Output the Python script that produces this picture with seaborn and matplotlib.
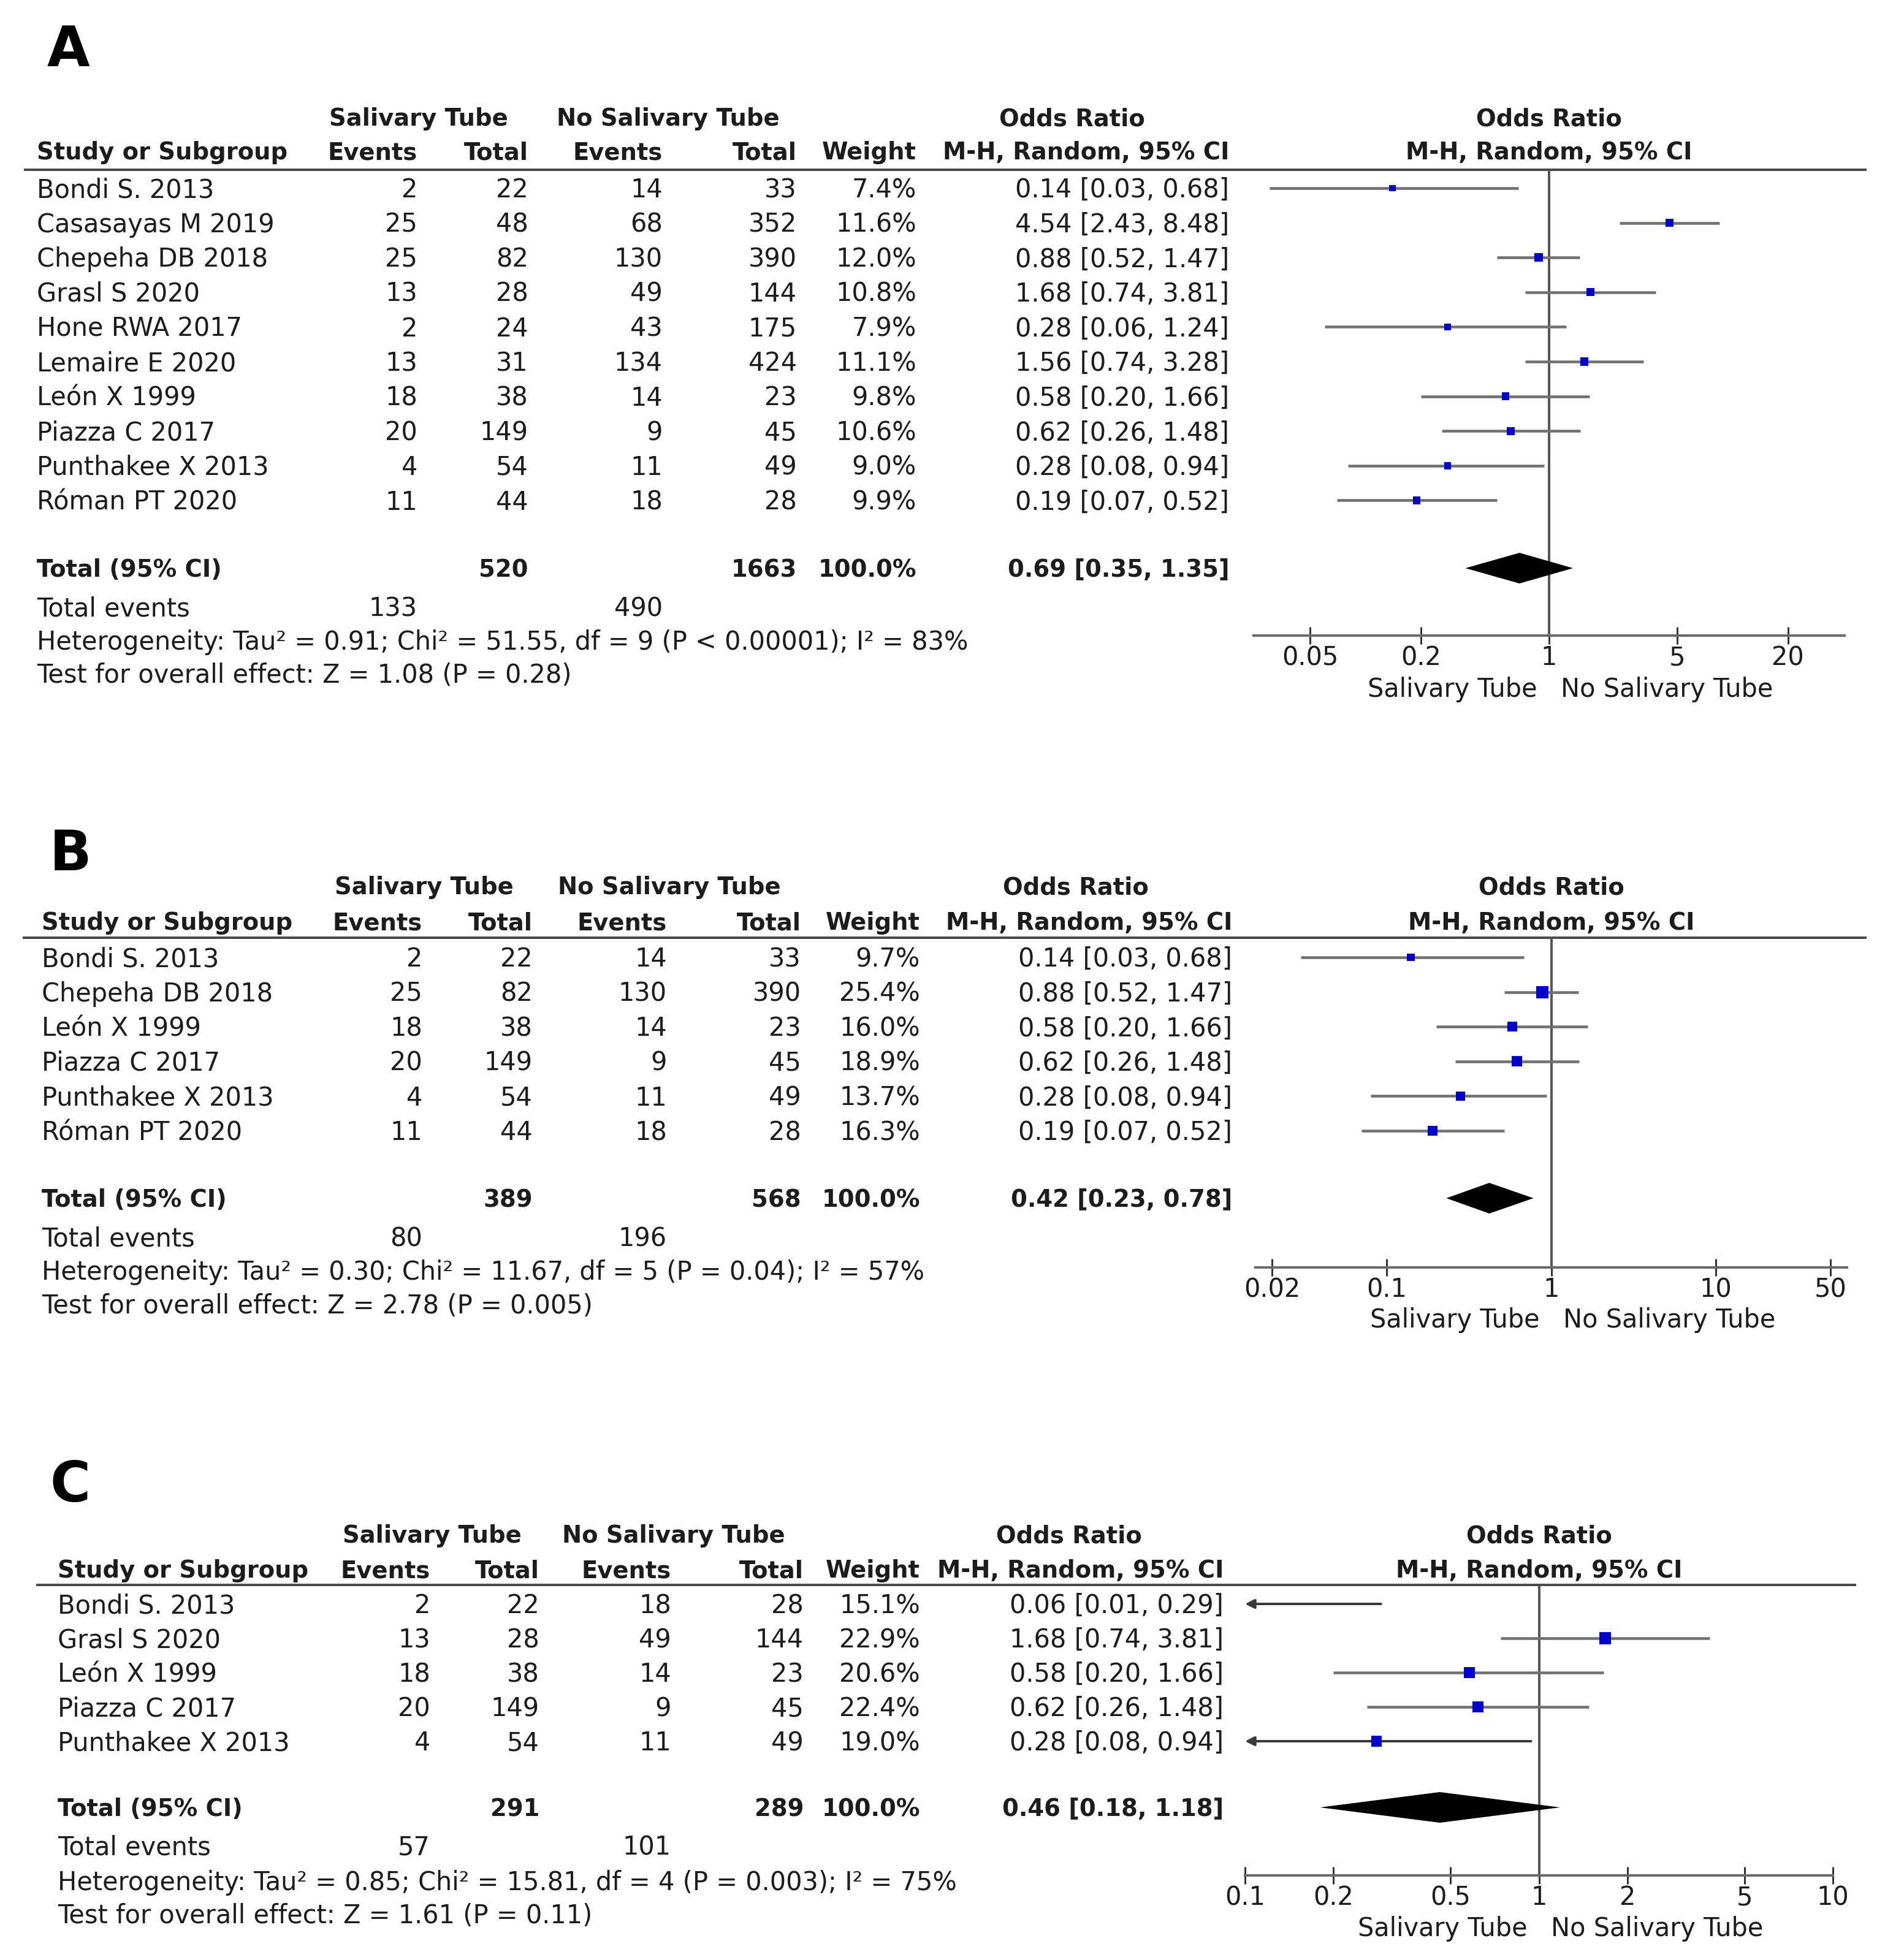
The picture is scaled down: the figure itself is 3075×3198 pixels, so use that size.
import numpy as np
import pandas as pd
import matplotlib
matplotlib.use("Agg")
import matplotlib.pyplot as plt
from matplotlib.ticker import NullLocator
import seaborn as sns

# ------------------------------------------------------------------ data
studies_A = ["Bondi S. 2013", "Casasayas M 2019", "Chepeha DB 2018", "Grasl S 2020",
             "Hone RWA 2017", "Lemaire E 2020", "León X 1999", "Piazza C 2017",
             "Punthakee X 2013", "Róman PT 2020"]
ev_sal_A = [2, 25, 25, 13, 2, 13, 18, 20, 4, 11]
tot_sal_A = [22, 48, 82, 28, 24, 31, 38, 149, 54, 44]
ev_no_A = [14, 68, 130, 49, 43, 134, 14, 9, 11, 18]
tot_no_A = [33, 352, 390, 144, 175, 424, 23, 45, 49, 28]
weight_A = [7.4, 11.6, 12.0, 10.8, 7.9, 11.1, 9.8, 10.6, 9.0, 9.9]
or_A = [0.14, 4.54, 0.88, 1.68, 0.28, 1.56, 0.58, 0.62, 0.28, 0.19]
lo_A = [0.03, 2.43, 0.52, 0.74, 0.06, 0.74, 0.20, 0.26, 0.08, 0.07]
hi_A = [0.68, 8.48, 1.47, 3.81, 1.24, 3.28, 1.66, 1.48, 0.94, 0.52]
total_A = [520, 1663, 0.69, 0.35, 1.35]
events_A = [133, 490]
het_A = "Heterogeneity: Tau² = 0.91; Chi² = 51.55, df = 9 (P < 0.00001); I² = 83%"
test_A = "Test for overall effect: Z = 1.08 (P = 0.28)"
ticks_A = [0.05, 0.2, 1, 5, 20]

studies_B = ["Bondi S. 2013", "Chepeha DB 2018", "León X 1999", "Piazza C 2017",
             "Punthakee X 2013", "Róman PT 2020"]
ev_sal_B = [2, 25, 18, 20, 4, 11]
tot_sal_B = [22, 82, 38, 149, 54, 44]
ev_no_B = [14, 130, 14, 9, 11, 18]
tot_no_B = [33, 390, 23, 45, 49, 28]
weight_B = [9.7, 25.4, 16.0, 18.9, 13.7, 16.3]
or_B = [0.14, 0.88, 0.58, 0.62, 0.28, 0.19]
lo_B = [0.03, 0.52, 0.20, 0.26, 0.08, 0.07]
hi_B = [0.68, 1.47, 1.66, 1.48, 0.94, 0.52]
total_B = [389, 568, 0.42, 0.23, 0.78]
events_B = [80, 196]
het_B = "Heterogeneity: Tau² = 0.30; Chi² = 11.67, df = 5 (P = 0.04); I² = 57%"
test_B = "Test for overall effect: Z = 2.78 (P = 0.005)"
ticks_B = [0.02, 0.1, 1, 10, 50]

studies_C = ["Bondi S. 2013", "Grasl S 2020", "León X 1999", "Piazza C 2017",
             "Punthakee X 2013"]
ev_sal_C = [2, 13, 18, 20, 4]
tot_sal_C = [22, 28, 38, 149, 54]
ev_no_C = [18, 49, 14, 9, 11]
tot_no_C = [28, 144, 23, 45, 49]
weight_C = [15.1, 22.9, 20.6, 22.4, 19.0]
or_C = [0.06, 1.68, 0.58, 0.62, 0.28]
lo_C = [0.01, 0.74, 0.20, 0.26, 0.08]
hi_C = [0.29, 3.81, 1.66, 1.48, 0.94]
total_C = [291, 289, 0.46, 0.18, 1.18]
events_C = [57, 101]
het_C = "Heterogeneity: Tau² = 0.85; Chi² = 15.81, df = 4 (P = 0.003); I² = 75%"
test_C = "Test for overall effect: Z = 1.61 (P = 0.11)"
ticks_C = [0.1, 0.2, 0.5, 1, 2, 5, 10]

# ------------------------------------------------------------------ style
sns.set_style("white")
plt.rcParams['font.family'] = ['DejaVu Sans']

W, H = 3075, 3198
DPI = 100
PX = 72.0 / DPI          # points per pixel
FS = 41.5 * PX           # body font
FSB = 38.5 * PX          # bold header font
TXT = '#1c1c1c'
BLUE = '#0000cc'

fig = plt.figure(figsize=(W / DPI, H / DPI), dpi=DPI)
bg = fig.add_axes([0, 0, 1, 1])
bg.set_xlim(0, W)
bg.set_ylim(H, 0)
bg.axis('off')


def txt(x, y, s, ha='left', bold=False, size=None, color=TXT):
    if size is None:
        size = FSB if bold else FS
    cap = 0.729 * size / PX
    bg.text(x, y + cap / 2, s, ha=ha, va='baseline', fontsize=size,
            fontweight='bold' if bold else 'normal', color=color)


def fmt_or(o, l, h):
    return f"{o:.2f} [{l:.2f}, {h:.2f}]"


def panel(label, studies, ev1, n1, ev2, n2, wt, orv, lo, hi, total, events,
          het, test, ticks, L):
    c = L['cols']
    # panel letter
    txt(L['lab_x'], L['lab_y'], label, bold=True, size=90 * PX, color='black')
    # headers
    txt(c['sal'], L['h1'], "Salivary Tube", ha='center', bold=True)
    txt(c['no'], L['h1'], "No Salivary Tube", ha='center', bold=True)
    txt(c['orh'], L['h1'], "Odds Ratio", ha='center', bold=True)
    txt(c['name'], L['h2'], "Study or Subgroup", bold=True)
    txt(c['ev1'], L['h2'], "Events", ha='right', bold=True)
    txt(c['n1'], L['h2'], "Total", ha='right', bold=True)
    txt(c['ev2'], L['h2'], "Events", ha='right', bold=True)
    txt(c['n2'], L['h2'], "Total", ha='right', bold=True)
    txt(c['wt'], L['h2'], "Weight", ha='right', bold=True)
    txt(c['or'], L['h2'], "M-H, Random, 95% CI", ha='right', bold=True)
    x0, x1 = L['ax_x']
    txt((x0 + x1) / 2, L['h1'], "Odds Ratio", ha='center', bold=True)
    txt((x0 + x1) / 2, L['h2'], "M-H, Random, 95% CI", ha='center', bold=True)
    bg.plot(L['line_x'], [L['line'], L['line']], color='#4a4a4a', lw=4 * PX,
            solid_capstyle='butt')

    # study rows
    for i, s in enumerate(studies):
        y = L['row0'] + i * L['sp']
        txt(c['name'], y, s)
        txt(c['ev1'], y, str(ev1[i]), ha='right')
        txt(c['n1'], y, str(n1[i]), ha='right')
        txt(c['ev2'], y, str(ev2[i]), ha='right')
        txt(c['n2'], y, str(n2[i]), ha='right')
        txt(c['wt'], y, f"{wt[i]:.1f}%", ha='right')
        txt(c['or'], y, fmt_or(orv[i], lo[i], hi[i]), ha='right')

    # total rows
    yt = L['total']
    txt(c['name'], yt, "Total (95% CI)", bold=True)
    txt(c['n1'], yt, str(total[0]), ha='right', bold=True)
    txt(c['n2'], yt, str(total[1]), ha='right', bold=True)
    txt(c['wt'], yt, "100.0%", ha='right', bold=True)
    txt(c['or'], yt, fmt_or(total[2], total[3], total[4]), ha='right', bold=True)
    txt(c['name'], L['tev'], "Total events")
    txt(c['ev1'], L['tev'], str(events[0]), ha='right')
    txt(c['ev2'], L['tev'], str(events[1]), ha='right')
    txt(c['name'], L['het'], het)
    txt(c['name'], L['test'], test)

    # forest plot axes
    ax = fig.add_axes([x0 / W, 1 - L['axis'] / H, (x1 - x0) / W,
                       (L['axis'] - L['line']) / H])
    ax.patch.set_alpha(0)
    ax.set_xscale('log')
    xmin, xmax = L['xlim']
    ax.set_xlim(xmin, xmax)
    r_top = (L['line'] - L['row0']) / L['sp']
    r_bot = (L['axis'] - L['row0']) / L['sp']
    ax.set_ylim(r_bot, r_top)

    df = pd.DataFrame({'OR': orv, 'lo': lo, 'hi': hi, 'w': wt,
                       'row': np.arange(len(orv), dtype=float)})
    ax.axvline(1, color='#555555', lw=4 * PX, zorder=1)
    for _, r in df.iterrows():
        lo_c = max(r.lo, xmin)
        hi_c = min(r.hi, xmax)
        if r.lo < xmin:
            ax.annotate('', xy=(xmin, r.row), xytext=(hi_c, r.row),
                        arrowprops=dict(arrowstyle='-|>', color='#3a3a3a',
                                        lw=4 * PX, mutation_scale=22,
                                        shrinkA=0, shrinkB=0), zorder=2)
        else:
            ax.hlines(r.row, lo_c, hi_c, color='#707070', lw=4.5 * PX, zorder=2)
    inside = df[(df.OR > xmin) & (df.OR < xmax)]
    sns.scatterplot(data=inside, x='OR', y='row', size='w',
                    sizes=(0, 8.2 * 100), size_norm=(0, 100), marker='s',
                    color=BLUE, edgecolor='none', linewidth=0, legend=False,
                    ax=ax, zorder=3)
    # pooled diamond
    ti = (L['total'] - L['row0']) / L['sp']
    h = 25 / L['sp']
    ax.fill([total[3], total[2], total[4], total[2]],
            [ti, ti - h, ti, ti + h], color='black', lw=0, zorder=4)

    ax.set_xlabel('')
    ax.set_ylabel('')
    ax.set_yticks([])
    ax.set_xticks(ticks)
    ax.set_xticklabels([f"{t:g}" for t in ticks])
    ax.xaxis.set_minor_locator(NullLocator())
    for sp_name in ['top', 'left', 'right']:
        ax.spines[sp_name].set_visible(False)
    ax.spines['bottom'].set_color('#6a6a6a')
    ax.spines['bottom'].set_linewidth(4 * PX)
    ax.tick_params(axis='x', which='major', bottom=True, direction='inout',
                   length=28 * PX, width=3 * PX, color='#333333', pad=1,
                   labelsize=FS, labelcolor=TXT)
    cap = 0.729 * FS / PX
    off = -(L['bot'] - L['axis'] + cap / 2)
    ax.annotate("Salivary Tube", xy=(1, 0), xycoords=('data', 'axes fraction'),
                xytext=(-19, off), textcoords='offset pixels', ha='right',
                va='baseline', fontsize=FS, color=TXT, annotation_clip=False)
    ax.annotate("No Salivary Tube", xy=(1, 0), xycoords=('data', 'axes fraction'),
                xytext=(19, off), textcoords='offset pixels', ha='left',
                va='baseline', fontsize=FS, color=TXT, annotation_clip=False)


L_A = dict(lab_x=77, lab_y=75, h1=191, h2=246, line=277, row0=307, sp=56.6,
           total=927, tev=990, het=1045, test=1099, axis=1037, bot=1122,
           ax_x=(2045, 3009), xlim=(10 ** -1.61, 10 ** 1.61), line_x=[39, 3045],
           cols=dict(name=60, ev1=681, n1=862, ev2=1081, n2=1300, wt=1495,
                     or_=2005, sal=683, no=1090, orh=1749))
L_B = dict(lab_x=81, lab_y=1387, h1=1445, h2=1503, line=1530, row0=1562, sp=56.6,
           total=1955, tev=2018, het=2073, test=2128, axis=2068, bot=2151,
           ax_x=(2048, 3013), xlim=(10 ** -1.80, 10 ** 1.80), line_x=[37, 3045],
           cols=dict(name=68, ev1=689, n1=869, ev2=1088, n2=1307, wt=1501,
                     or_=2010, sal=692, no=1092, orh=1755))
L_C = dict(lab_x=81, lab_y=2417, h1=2503, h2=2560, line=2586, row0=2617, sp=56.0,
           total=2949, tev=3011, het=3069, test=3123, axis=3060, bot=3144,
           ax_x=(2031, 2990), xlim=(0.1, 10), line_x=[59, 3028],
           cols=dict(name=94, ev1=702, n1=880, ev2=1095, n2=1311, wt=1501,
                     or_=1996, sal=705, no=1099, orh=1744))
for Ld in (L_A, L_B, L_C):
    Ld['cols']['or'] = Ld['cols'].pop('or_')

panel("A", studies_A, ev_sal_A, tot_sal_A, ev_no_A, tot_no_A, weight_A,
      or_A, lo_A, hi_A, total_A, events_A, het_A, test_A, ticks_A, L_A)
panel("B", studies_B, ev_sal_B, tot_sal_B, ev_no_B, tot_no_B, weight_B,
      or_B, lo_B, hi_B, total_B, events_B, het_B, test_B, ticks_B, L_B)
panel("C", studies_C, ev_sal_C, tot_sal_C, ev_no_C, tot_no_C, weight_C,
      or_C, lo_C, hi_C, total_C, events_C, het_C, test_C, ticks_C, L_C)

fig.savefig("out.png", dpi=DPI)
